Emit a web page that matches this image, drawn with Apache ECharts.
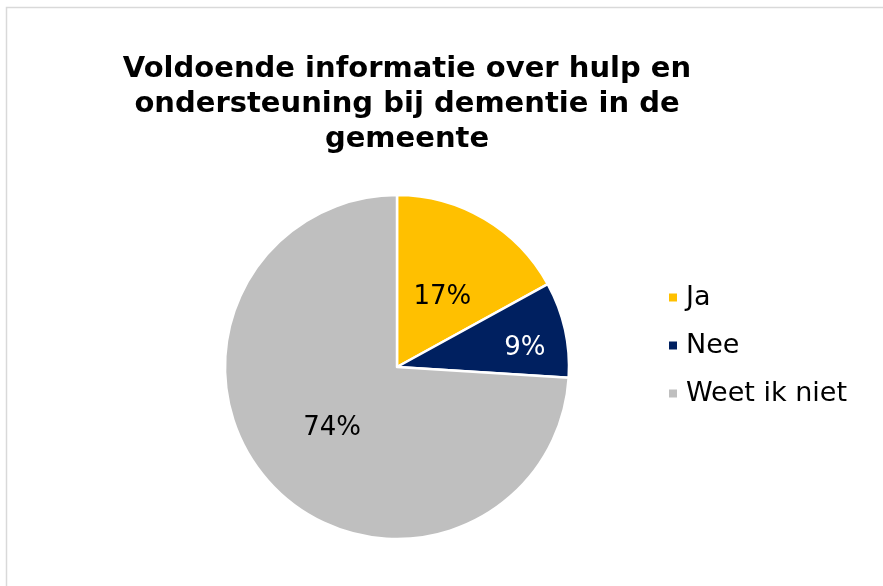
<!DOCTYPE html>
<html>
<head>
    <meta charset="utf-8">
    <title>ECharts</title>
    <script src="https://cdn.jsdelivr.net/npm/echarts@6/dist/echarts.min.js"></script>
    <style>
        body { margin: 0; background: #fff; }
    </style>
</head>
<body>
<div id="main" style="height: 586px; width: 883px;"></div>
<script type="text/javascript">
    var myChart = echarts.init(document.getElementById('main'));

    // data
    var categories = ['Ja', 'Nee', 'Weet ik niet'];
    var values = [17, 9, 74];
    var colors = ['#FFC000', '#002060', '#BFBFBF'];
    var labelColors = ['#000', '#fff', '#000'];

    var pieData = [];
    for (var i = 0; i < categories.length; i++) {
        pieData.push({
            name: categories[i],
            value: values[i],
            itemStyle: { color: colors[i] },
            label: { color: labelColors[i] }
        });
    }

    var option = {
        backgroundColor: '#fff',
        graphic: [{
            type: 'rect',
            shape: { x: 6.5, y: 7.5, width: 900, height: 600 },
            style: { fill: 'none', stroke: '#d9d9d9', lineWidth: 1.5 },
            silent: true
        }],
        title: {
            text: 'Voldoende informatie over hulp en\nondersteuning bij dementie in de\ngemeente',
            left: 402,
            top: 47,
            textAlign: 'center',
            textStyle: {
                fontFamily: 'DejaVu Sans',
                fontWeight: 'bold',
                fontSize: 29,
                lineHeight: 35,
                color: '#000'
            }
        },
        legend: {
            orient: 'vertical',
            left: 662,
            top: 279,
            icon: 'rect',
            itemWidth: 10,
            itemHeight: 10,
            itemGap: 21,
            data: categories,
            textStyle: {
                fontFamily: 'DejaVu Sans',
                fontSize: 27,
                padding: [0, 0, 0, 3],
                color: '#000'
            }
        },
        series: [{
            type: 'pie',
            center: [397, 367],
            radius: [0, 172],
            startAngle: 90,
            clockwise: true,
            animation: false,
            itemStyle: { borderColor: '#fff', borderWidth: 2.5 },
            label: {
                show: true,
                position: 'inside',
                formatter: '{c}%',
                fontFamily: 'DejaVu Sans',
                fontSize: 26
            },
            labelLayout: function (params) {
                if (params.dataIndex === 0) {
                    return { dx: 0, dy: 7 };
                }
                if (params.dataIndex === 1) {
                    return { dx: 41, dy: 1 };
                }
            },
            emphasis: { disabled: true },
            data: pieData
        }]
    };

    myChart.setOption(option);
</script>
</body>
</html>
